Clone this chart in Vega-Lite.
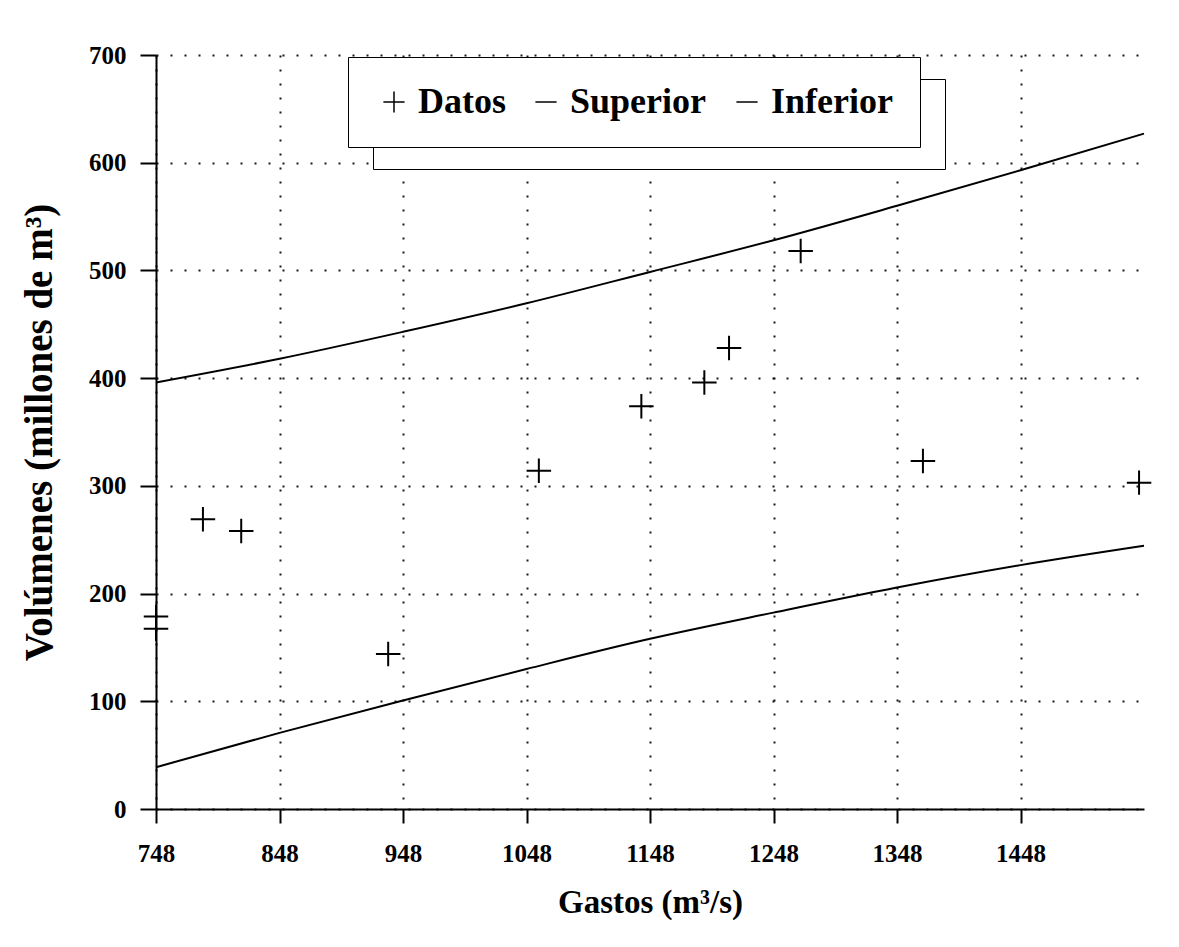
{
  "$schema": "https://vega.github.io/schema/vega-lite/v6.json",
  "width": 988,
  "height": 754,
  "autosize": {"type": "none"},
  "padding": {"left": 156, "top": 55, "right": 35, "bottom": 138},
  "background": "white",
  "config": {"view": {"stroke": null}, "font": "Liberation Serif"},
  "datasets": {
    "datos": [
      {"gasto": 748, "volumen": 178.6, "serie": "Datos", "grupo": "Datos"},
      {"gasto": 748, "volumen": 167.4, "serie": "Datos", "grupo": "Datos"},
      {"gasto": 786, "volumen": 269, "serie": "Datos", "grupo": "Datos"},
      {"gasto": 817, "volumen": 258, "serie": "Datos", "grupo": "Datos"},
      {"gasto": 936, "volumen": 144, "serie": "Datos", "grupo": "Datos"},
      {"gasto": 1058, "volumen": 314, "serie": "Datos", "grupo": "Datos"},
      {"gasto": 1141, "volumen": 374, "serie": "Datos", "grupo": "Datos"},
      {"gasto": 1192, "volumen": 396, "serie": "Datos", "grupo": "Datos"},
      {"gasto": 1212, "volumen": 428, "serie": "Datos", "grupo": "Datos"},
      {"gasto": 1270, "volumen": 518, "serie": "Datos", "grupo": "Datos"},
      {"gasto": 1369, "volumen": 323, "serie": "Datos", "grupo": "Datos"},
      {"gasto": 1544, "volumen": 303, "serie": "Datos", "grupo": "Datos"}
    ],
    "curvas": [
      {"gasto": 748, "volumen": 396, "serie": "Superior"},
      {"gasto": 848, "volumen": 418, "serie": "Superior"},
      {"gasto": 948, "volumen": 443, "serie": "Superior"},
      {"gasto": 1048, "volumen": 469.5, "serie": "Superior"},
      {"gasto": 1148, "volumen": 498.6, "serie": "Superior"},
      {"gasto": 1248, "volumen": 528, "serie": "Superior"},
      {"gasto": 1348, "volumen": 560, "serie": "Superior"},
      {"gasto": 1448, "volumen": 593, "serie": "Superior"},
      {"gasto": 1548, "volumen": 627, "serie": "Superior"},
      {"gasto": 748, "volumen": 38.8, "serie": "Inferior"},
      {"gasto": 848, "volumen": 70.7, "serie": "Inferior"},
      {"gasto": 948, "volumen": 100.8, "serie": "Inferior"},
      {"gasto": 1048, "volumen": 130, "serie": "Inferior"},
      {"gasto": 1148, "volumen": 158, "serie": "Inferior"},
      {"gasto": 1248, "volumen": 182.3, "serie": "Inferior"},
      {"gasto": 1348, "volumen": 205.6, "serie": "Inferior"},
      {"gasto": 1448, "volumen": 226.4, "serie": "Inferior"},
      {"gasto": 1548, "volumen": 244.4, "serie": "Inferior"}
    ]
  },
  "layer": [
    {
      "data": {"name": "curvas"},
      "mark": {"type": "line", "color": "black", "strokeWidth": 2, "interpolate": "monotone"},
      "encoding": {
        "x": {
          "field": "gasto", "type": "quantitative",
          "scale": {"domain": [748, 1548], "nice": false, "zero": false},
          "axis": {
            "values": [748, 848, 948, 1048, 1148, 1248, 1348, 1448],
            "format": "d", "labelFlush": false,
            "grid": true, "gridDash": [2, 12], "gridColor": "black", "gridWidth": 2, "gridOpacity": 0.9,
            "domainColor": "black", "domainWidth": 2,
            "tickColor": "black", "tickWidth": 2, "tickSize": 14,
            "labelFont": "Liberation Serif", "labelFontWeight": "bold", "labelFontSize": 25, "labelColor": "black", "labelPadding": 18,
            "title": "Gastos (m³/s)", "titleFont": "Liberation Serif", "titleFontWeight": "bold", "titleFontSize": 33, "titleColor": "black", "titlePadding": 20
          }
        },
        "y": {
          "field": "volumen", "type": "quantitative",
          "scale": {"domain": [0, 700], "nice": false},
          "axis": {
            "values": [0, 100, 200, 300, 400, 500, 600, 700],
            "format": "d", "labelFlush": false,
            "grid": true, "gridDash": [2, 12], "gridColor": "black", "gridWidth": 2, "gridOpacity": 0.9,
            "domainColor": "black", "domainWidth": 2,
            "tickColor": "black", "tickWidth": 2, "tickSize": 16,
            "labelFont": "Liberation Serif", "labelFontWeight": "bold", "labelFontSize": 25, "labelColor": "black", "labelPadding": 14,
            "title": "Volúmenes (millones de m³)", "titleFont": "Liberation Serif", "titleFontWeight": "bold", "titleFontSize": 39, "titleColor": "black", "titlePadding": 29
          }
        },
        "detail": {"field": "serie"}
      }
    },
    {
      "data": {"name": "datos"},
      "mark": {"type": "point", "filled": false, "strokeWidth": 2, "color": "black", "opacity": 1},
      "encoding": {
        "x": {"field": "gasto", "type": "quantitative"},
        "y": {"field": "volumen", "type": "quantitative"},
        "shape": {
          "field": "serie", "type": "nominal",
          "scale": {"domain": ["Datos", "Superior", "Inferior"], "range": ["M-1,0H1M0,-1V1", "M-1,0H1", "M-1,0H1"]},
          "legend": {
            "title": "A", "titleOrient": "left", "titleFontSize": 1, "titlePadding": 0, "titleOpacity": 0,
            "orient": "none", "legendX": 192, "legendY": 2, "direction": "horizontal",
            "padding": 27, "strokeColor": "black", "fillColor": "white",
            "labelFont": "Liberation Serif", "labelFontWeight": "bold", "labelFontSize": 36, "labelColor": "black", "labelOffset": 6,
            "symbolSize": 450, "symbolStrokeColor": "black", "symbolFillColor": "transparent", "symbolStrokeWidth": 1.5, "symbolOpacity": 1,
            "columnPadding": 22
          }
        },
        "size": {
          "field": "grupo", "type": "ordinal",
          "scale": {"domain": ["Superior", "Datos", "Inferior"], "range": [600, 600, 600]},
          "legend": {
            "title": "B", "titleOrient": "left", "titleFontSize": 1, "titlePadding": 0, "titleOpacity": 0,
            "orient": "none", "legendX": 217, "legendY": 24, "direction": "horizontal",
            "padding": 27, "strokeColor": "black", "fillColor": "white",
            "labelFont": "Liberation Serif", "labelFontWeight": "bold", "labelFontSize": 36, "labelColor": "black", "labelOpacity": 0, "labelOffset": 6,
            "symbolType": "M-1,0H1", "symbolOpacity": 0, "symbolStrokeWidth": 1.5,
            "columnPadding": 22,
            "encode": {"symbols": {"update": {"size": {"value": 450}, "opacity": {"value": 0}}}}
          }
        }
      }
    }
  ]
}
